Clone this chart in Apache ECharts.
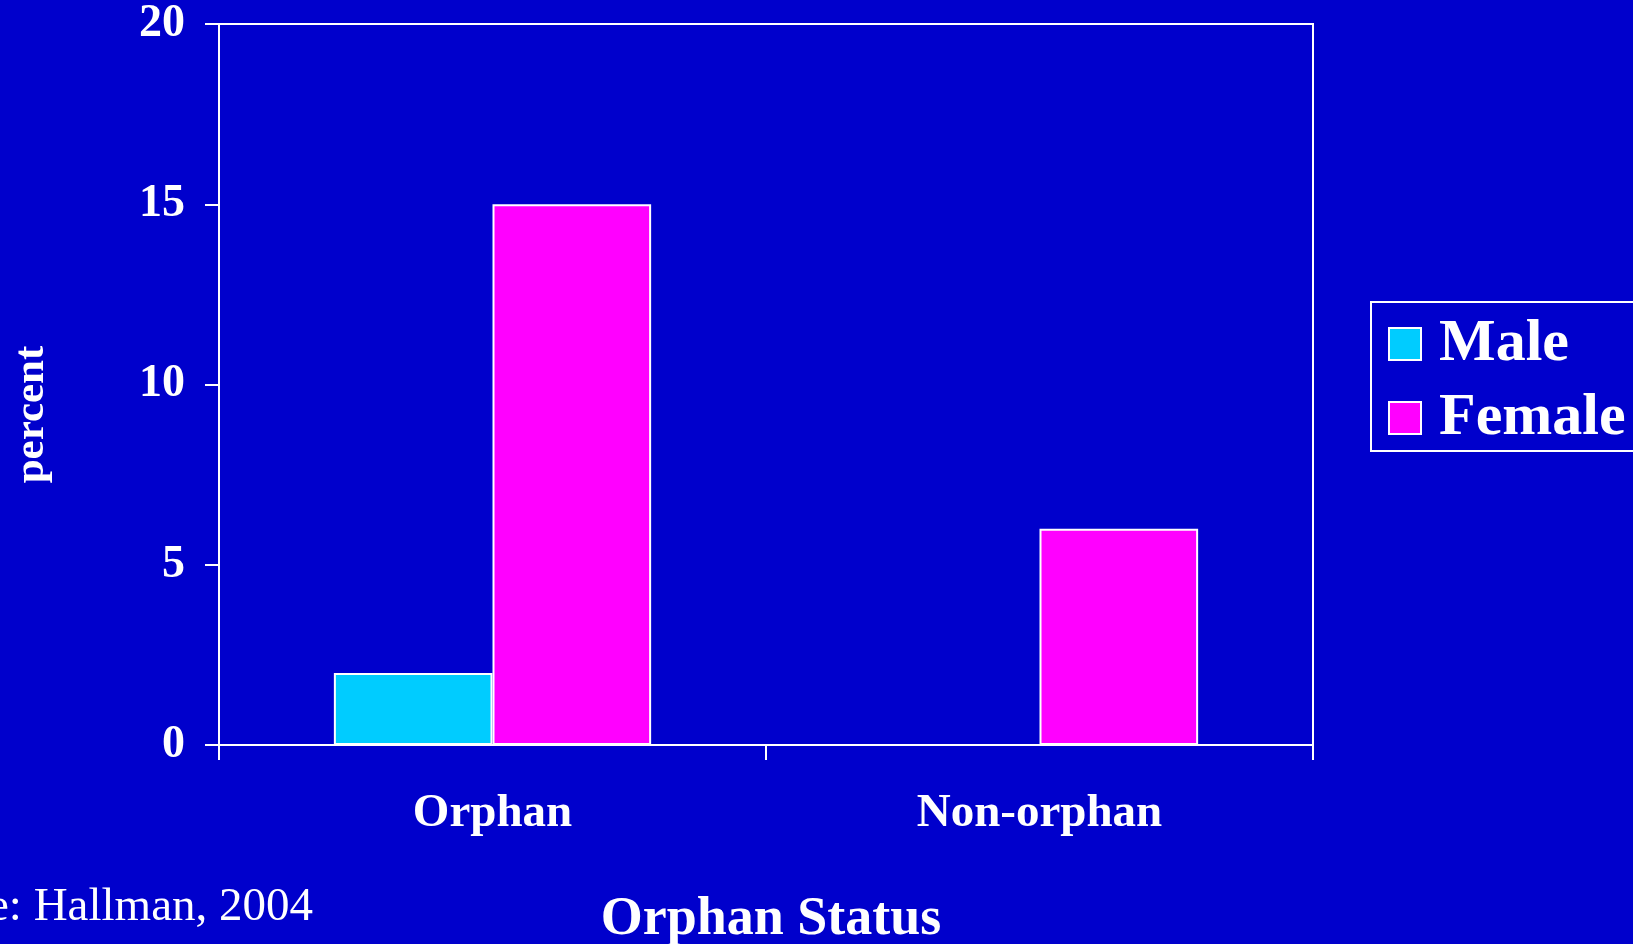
<!DOCTYPE html>
<html>
<head>
<meta charset="utf-8">
<script src="https://cdn.jsdelivr.net/npm/echarts@6/dist/echarts.min.js"></script>
<style>
  html, body { margin: 0; padding: 0; background: #0000cc; }
  #main { width: 1633px; height: 944px; }
</style>
</head>
<body>
<div id="main"></div>
<script>
// data
const categories = ['Orphan', 'Non-orphan'];
const maleValues = [2, 0];
const femaleValues = [15, 6];
const yTicks = [0, 5, 10, 15, 20];

const serif = '"Liberation Serif", "Times New Roman", serif';
const white = '#ffffff';

const myChart = echarts.init(document.getElementById('main'));

const option = {
  backgroundColor: '#0000cc',
  animation: false,
  textStyle: { fontFamily: serif },
  grid: {
    left: 219, right: 320, top: 24, bottom: 199,
    outerBoundsMode: 'none',
    containLabel: false,
    show: true, borderColor: white, borderWidth: 2,
    backgroundColor: 'transparent'
  },
  legend: {
    orient: 'vertical',
    left: 1371, top: 302,
    padding: [12, 300, 3, 17],
    itemGap: 14,
    itemWidth: 32, itemHeight: 32,
    borderColor: white, borderWidth: 2,
    icon: 'rect',
    textStyle: {
      color: white, fontSize: 60, fontWeight: 'bold', fontFamily: serif,
      padding: [0, 0, 0, 13]
    },
    data: ['Male', 'Female']
  },
  xAxis: {
    type: 'category',
    data: categories,
    name: 'Orphan Status',
    nameLocation: 'middle',
    nameGap: 148,
    nameTextStyle: {
      color: white, fontSize: 54, fontWeight: 'bold', fontFamily: serif,
      padding: [0, 0, 0, 10]
    },
    axisLine: { lineStyle: { color: white, width: 2 } },
    axisTick: { show: true, length: 15, lineStyle: { color: white, width: 2 } },
    axisLabel: { color: white, fontSize: 47, fontWeight: 'bold', fontFamily: serif, margin: 45 },
    splitLine: { show: false }
  },
  yAxis: {
    type: 'value',
    min: yTicks[0], max: yTicks[yTicks.length - 1], interval: 5,
    name: 'percent',
    nameLocation: 'middle',
    nameRotate: 90,
    nameGap: 166,
    nameTextStyle: {
      color: white, fontSize: 43, fontWeight: 'bold', fontFamily: serif,
      padding: [0, 60, 0, 0]
    },
    axisLine: { show: true, lineStyle: { color: white, width: 2 } },
    axisTick: { show: true, length: 14, lineStyle: { color: white, width: 2 } },
    axisLabel: { color: white, fontSize: 46, fontWeight: 'bold', fontFamily: serif, margin: 34 },
    splitLine: { show: false }
  },
  series: [
    {
      name: 'Male',
      type: 'bar',
      data: maleValues,
      barGap: 0,
      barCategoryGap: '42%',
      itemStyle: { color: '#00ccff', borderColor: white, borderWidth: 2 }
    },
    {
      name: 'Female',
      type: 'bar',
      data: femaleValues,
      barGap: 0,
      barCategoryGap: '42%',
      itemStyle: { color: '#ff00ff', borderColor: white, borderWidth: 2 }
    }
  ],
  graphic: [
    {
      type: 'text',
      x: 313, y: 908,
      style: {
        text: 'Source: Hallman, 2004',
        fill: white,
        font: '47px ' + serif,
        textAlign: 'right',
        textVerticalAlign: 'middle'
      }
    }
  ]
};

myChart.setOption(option);
</script>
</body>
</html>
